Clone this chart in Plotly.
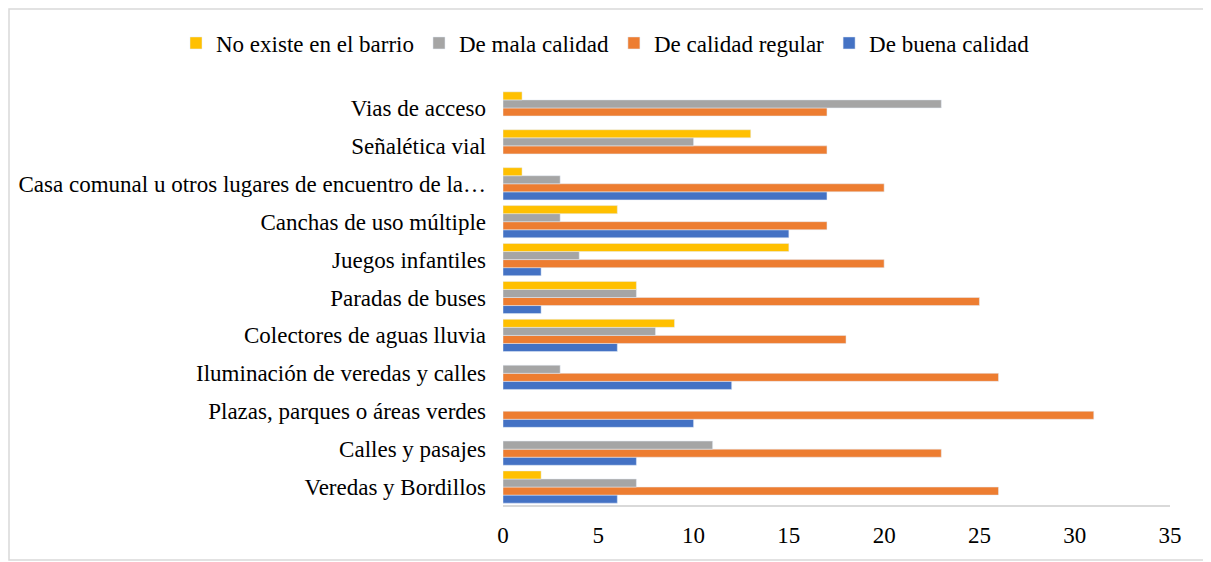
import plotly.graph_objects as go

# categorias de abajo hacia arriba (como en el grafico)
categorias = ['Veredas y Bordillos', 'Calles y pasajes', 'Plazas, parques o áreas verdes',
              'Iluminación de veredas y calles', 'Colectores de aguas lluvia', 'Paradas de buses',
              'Juegos infantiles', 'Canchas de uso múltiple',
              'Casa comunal u otros lugares de encuentro de la…', 'Señalética vial', 'Vias de acceso']

buena = [6, 7, 10, 12, 6, 2, 2, 15, 17, None, None]
regular = [26, 23, 31, 26, 18, 25, 20, 17, 20, 17, 17]
mala = [7, 11, None, 3, 8, 7, 4, 3, 3, 10, 23]
no_existe = [2, None, None, None, 9, 7, 15, 6, 1, 13, 1]

ticks_x = [0, 5, 10, 15, 20, 25, 30, 35]

fuente = 'Liberation Serif, Times New Roman, serif'

fig = go.Figure(data=[
  go.Bar(name='De buena calidad', y=categorias, x=buena, orientation='h', marker_color='#4472C4'),
  go.Bar(name='De calidad regular', y=categorias, x=regular, orientation='h', marker_color='#ED7D31'),
  go.Bar(name='De mala calidad', y=categorias, x=mala, orientation='h', marker_color='#A5A5A5'),
  go.Bar(name='No existe en el barrio', y=categorias, x=no_existe, orientation='h', marker_color='#FFC000'),
])

# la pagina tiene 8px de margen en el body, se compensa aqui
W, H = 1203, 554
L, T = 495, 81
pw, ph = 667, 417
R, B = W - L - pw, H - T - ph

# marco exterior del grafico
fig.add_shape(type='rect', xref='paper', yref='paper',
              x0=(1 - L) / pw, x1=(1200 - L) / pw,
              y0=(T + ph - 552) / ph, y1=(T + ph - 1) / ph,
              line=dict(color='#D9D9D9', width=1.5))
# linea del eje x
fig.add_shape(type='line', xref='paper', yref='paper', x0=0, x1=1, y0=0, y1=0,
              line=dict(color='#D9D9D9', width=2))

fig.update_layout(
  barmode='group', bargap=0.15, bargroupgap=0,
  width=W, height=H,
  margin=dict(l=L, r=R, t=T, b=B, autoexpand=False),
  plot_bgcolor='white', paper_bgcolor='white',
  font=dict(family=fuente, size=23, color='black'),
  legend=dict(orientation='h', traceorder='reversed',
              x=(168 - L) / pw, xanchor='left',
              y=1 + (T - 35) / ph, yanchor='middle',
              font=dict(size=23), itemwidth=30, tracegroupgap=0),
  xaxis=dict(range=[0, 35], tickvals=ticks_x, showgrid=False, zeroline=False,
             showline=False, ticks='', ticklabelstandoff=13),
  yaxis=dict(showgrid=False, zeroline=False, ticks='', showline=False,
             ticklabelstandoff=16),
)

fig.write_html('out.html')
